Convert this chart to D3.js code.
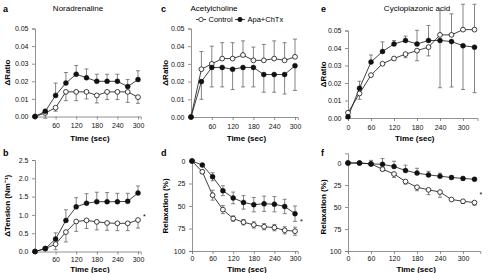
<!DOCTYPE html>
<html>
<head>
<meta charset="utf-8">
<script src="https://cdn.jsdelivr.net/npm/d3@7"></script>
<style>
body { margin: 0; background: #fff; }
svg { display: block; font-family: "Liberation Sans", Arial, sans-serif; }
</style>
</head>
<body>
<svg id="chart"></svg>
<script>
// time points (sec)
let times = [0, 30, 60, 90, 120, 150, 180, 210, 240, 270, 300];
let timesLong = [0, 30, 60, 90, 120, 150, 180, 210, 240, 270, 300, 330];

// tick values
let timeTicks = [60, 120, 180, 240, 300];
let timeTicksZero = [0, 60, 120, 180, 240, 300];
let ratioTicks = [0, 0.01, 0.02, 0.03, 0.04, 0.05];
let tensionTicks = [0, 0.5, 1.0, 1.5, 2.0, 2.5];
let relaxTicks = [0, 25, 50, 75, 100];

// errors: + drawn towards larger values, - towards smaller values

// a: noradrenaline, ratio
let naRatioCtrl = [0, 0.002, 0.005, 0.014, 0.014, 0.014, 0.012, 0.014, 0.014, 0.014, 0.011];
let naRatioCtrlErr = [0, -0.003, -0.002, -0.005, -0.005, -0.004, -0.0043, -0.0044, -0.0044, -0.006, -0.0035];
let naRatioApa = [0, 0.003, 0.012, 0.019, 0.024, 0.022, 0.020, 0.020, 0.020, 0.017, 0.021];
let naRatioApaErr = [0, 0.001, 0.007, 0.006, 0.005, 0.005, 0.004, 0.004, 0.004, 0.004, 0.005];

// b: noradrenaline, tension
let naTensionCtrl = [0, 0.08, 0.2, 0.53, 0.82, 0.85, 0.81, 0.78, 0.77, 0.77, 0.86];
let naTensionCtrlErr = [0, 0, -0.15, -0.27, -0.27, -0.22, -0.22, -0.2, -0.2, -0.2, -0.22];
let naTensionApa = [0, 0.08, 0.34, 0.85, 1.22, 1.32, 1.36, 1.36, 1.36, 1.37, 1.6];
let naTensionApaErr = [0, 0, 0.17, 0.29, 0.25, 0.26, 0.26, 0.25, 0.23, 0.22, 0.19];

// c: acetylcholine, ratio
let achRatioCtrl = [0, 0.027, 0.030, 0.033, 0.033, 0.035, 0.032, 0.032, 0.033, 0.032, 0.034];
let achRatioCtrlErr = [0, 0.010, 0.010, 0.009, 0.009, 0.008, 0.0075, 0.009, 0.010, 0.010, 0.010];
let achRatioApa = [0, 0.020, 0.028, 0.028, 0.027, 0.028, 0.028, 0.024, 0.024, 0.024, 0.029];
let achRatioApaErr = [0, -0.010, -0.011, -0.011, -0.0115, -0.011, -0.011, -0.010, -0.010, -0.011, -0.014];

// d: acetylcholine, relaxation (symmetric errors)
let achRelaxCtrl = [0, 12, 38, 54, 64, 68, 71, 73, 74, 77, 78];
let achRelaxCtrlErr = [0, 2, 5.5, 4.5, 3, 3, 3.5, 3.5, 3.5, 4, 4.5];
let achRelaxApa = [0, 4.5, 17.5, 33, 41, 46, 48.5, 47.5, 48, 50.5, 58.5];
let achRelaxApaErr = [0, 1, 4.5, 5.5, 6.5, 7.5, 8, 8.5, 8.5, 8, 8.5];

// e: cyclopiazonic acid, ratio
let cpaRatioCtrl = [0.003, 0.014, 0.0245, 0.031, 0.034, 0.0365, 0.0385, 0.0405, 0.0475, 0.0475, 0.0505, 0.0505];
let cpaRatioCtrlErr = [0, -0.0033, 0, 0, 0, -0.002, -0.0058, -0.005, 0.014, 0.012, 0.0145, 0.0145];
let cpaRatioApa = [0.0007, 0.017, 0.032, 0.038, 0.0423, 0.0443, 0.0423, 0.0443, 0.0443, 0.0437, 0.0413, 0.0405];
let cpaRatioApaErr = [0, 0.004, 0.004, 0.0055, 0.002, 0.0025, 0.0078, 0.0086, -0.027, -0.026, -0.025, -0.026];

// f: cyclopiazonic acid, relaxation
let cpaRelaxCtrl = [0, 0, 1, 7, 12.5, 21, 27.5, 30.5, 33, 41.5, 43.5, 45];
let cpaRelaxCtrlErr = [0, 0, 0, 2, 4, 3, 4, 5.5, 6, 1, 2.5, 3];
let cpaRelaxApa = [0, 0, 1, 1.5, 4, 8.5, 11.5, 13.5, 15, 16.5, 17.5, 18.5];
let cpaRelaxApaErr = [0, 0, -4, -6.5, -6, -6, -5.5, -4, -3.5, -2, -1.5, -1.5];

let w = 494;
let h = 273;

let svg = d3.select("#chart")
    .attr("width", w)
    .attr("height", h);

let panels = [
    { letter: "a", title: "Noradrenaline", titleX: 78, yLabel: "ΔRatio",
      t: times, ctrl: naRatioCtrl, ctrlErr: naRatioCtrlErr, apa: naRatioApa, apaErr: naRatioApaErr,
      yDomain: [0, 0.05], yTicks: ratioTicks, yFmt: d3.format(".2f"), xTicks: timeTicks, xEnd: 308,
      xr: [35, 138], yr: [116.5, 28.5], labelX: 7, letterX: 3 },
    { letter: "c", title: "Acetylcholine", titleX: 214, yLabel: "ΔRatio",
      t: times, ctrl: achRatioCtrl, ctrlErr: achRatioCtrlErr, apa: achRatioApa, apaErr: achRatioApaErr,
      yDomain: [0, 0.05], yTicks: ratioTicks, yFmt: d3.format(".2f"), xTicks: timeTicks, xEnd: 308,
      xr: [191, 295], yr: [117, 28.5], labelX: 165, letterX: 161, legend: true },
    { letter: "e", title: "Cyclopiazonic acid", titleX: 417, yLabel: "ΔRatio",
      t: timesLong, ctrl: cpaRatioCtrl, ctrlErr: cpaRatioCtrlErr, apa: cpaRatioApa, apaErr: cpaRatioApaErr,
      yDomain: [0, 0.05], yTicks: ratioTicks, yFmt: d3.format(".2f"), xTicks: timeTicksZero, xEnd: 338,
      xr: [348, 463], yr: [118, 30.5], labelX: 323, letterX: 321 },
    { letter: "b", yLabel: "ΔTension (Nm⁻¹)",
      t: times, ctrl: naTensionCtrl, ctrlErr: naTensionCtrlErr, apa: naTensionApa, apaErr: naTensionApaErr,
      yDomain: [0, 2.5], yTicks: tensionTicks, yFmt: d3.format(".1f"), xTicks: timeTicks, xEnd: 308,
      xr: [35, 138], yr: [251.5, 160], labelX: 7, letterX: 3, star: [300, 1.0] },
    { letter: "d", yLabel: "Relaxation (%)", symmetric: true,
      t: times, ctrl: achRelaxCtrl, ctrlErr: achRelaxCtrlErr, apa: achRelaxApa, apaErr: achRelaxApaErr,
      yDomain: [0, 100], yTicks: relaxTicks, yFmt: d3.format("d"), xTicks: timeTicksZero, xEnd: 308,
      xr: [192, 295], yr: [161, 251], labelX: 165, letterX: 161, star: [300, 65] },
    { letter: "f", yLabel: "Relaxation (%)", yStart: -11,
      t: timesLong, ctrl: cpaRelaxCtrl, ctrlErr: cpaRelaxCtrlErr, apa: cpaRelaxApa, apaErr: cpaRelaxApaErr,
      yDomain: [0, 100], yTicks: relaxTicks, yFmt: d3.format("d"), xTicks: timeTicksZero, xEnd: 345,
      xr: [348, 463], yr: [163, 251], labelX: 323, letterX: 321, star: [330, 34] }
];

function makePanel(p, i) {
    let top = i < 3;
    let g = svg.append("g");

    let xScale = d3.scaleLinear().domain([0, 300]).range(p.xr);
    let yScale = d3.scaleLinear().domain(p.yDomain).range(p.yr);

    // axes (domain extended a little past the last point like the original)
    let xAxisScale = xScale.copy().domain([0, p.xEnd]).range([xScale(0), xScale(p.xEnd)]);
    let y0 = p.yStart !== undefined ? p.yStart : p.yDomain[0];
    let yAxisScale = yScale.copy().domain([y0, p.yDomain[1]]).range([yScale(y0), yScale(p.yDomain[1])]);

    let xAxis = d3.axisBottom(xAxisScale)
        .tickValues(p.xTicks)
        .tickSizeOuter(0)
        .tickSize(3)
        .tickPadding(top ? 4 : 2.5);
    let xAxisGroup = g.append("g")
        .attr("transform", `translate(0, ${d3.max(p.yr)})`)
        .call(xAxis);

    let yAxis = d3.axisLeft(yAxisScale)
        .tickValues(p.yTicks)
        .tickFormat(p.yFmt)
        .tickSizeOuter(0)
        .tickSize(3)
        .tickPadding(3.5);
    let yAxisGroup = g.append("g")
        .attr("transform", `translate(${xScale(0)}, 0)`)
        .call(yAxis);

    [xAxisGroup, yAxisGroup].forEach(ax => {
        ax.select(".domain").attr("stroke", "#777").attr("stroke-width", 0.8);
        ax.selectAll(".tick line").attr("stroke", "#777").attr("stroke-width", 0.8);
        ax.selectAll(".tick text").attr("fill", "#111").style("font-size", "7px")
            .style("font-family", "'Liberation Sans', Arial, sans-serif");
    });

    // axis titles
    let xMid = (xScale(0) + xScale(p.xEnd)) / 2 + 2;
    g.append("text")
        .attr("x", xMid)
        .attr("y", top ? 141 : 271.5)
        .attr("text-anchor", "middle")
        .style("font-size", "8px")
        .style("font-weight", "bold")
        .text("Time (sec)");

    let yMid = (p.yr[0] + p.yr[1]) / 2;
    g.append("text")
        .attr("transform", `translate(${p.labelX + 3}, ${yMid}) rotate(-90)`)
        .attr("text-anchor", "middle")
        .style("font-size", "8px")
        .style("font-weight", "bold")
        .text(p.yLabel);

    // panel letter and title
    g.append("text")
        .attr("x", p.letterX)
        .attr("y", top ? 12 : 156)
        .style("font-size", "9px")
        .style("font-weight", "bold")
        .text(p.letter);
    if (p.title) {
        g.append("text")
            .attr("x", p.titleX)
            .attr("y", 11)
            .attr("text-anchor", "middle")
            .style("font-size", "8px")
            .text(p.title);
    }

    let series = [
        { vals: p.ctrl, errs: p.ctrlErr, open: true },
        { vals: p.apa, errs: p.apaErr, open: false }
    ];

    let line = d3.line()
        .x((d, j) => xScale(p.t[j]))
        .y(d => yScale(d));

    series.forEach(s => {
        g.append("path")
            .datum(s.vals)
            .attr("fill", "none")
            .attr("stroke", "#111")
            .attr("stroke-width", 0.8)
            .attr("d", line);
    });

    // error bars
    series.forEach(s => {
        let eb = g.append("g").attr("stroke", "#666").attr("stroke-width", 0.8);
        s.vals.forEach((v, j) => {
            let e = s.errs[j];
            if (!e) return;
            let cx = xScale(p.t[j]);
            let ends = p.symmetric ? [v - e, v + e] : [v + e];
            ends.forEach(end => {
                eb.append("line")
                    .attr("x1", cx).attr("x2", cx)
                    .attr("y1", yScale(v)).attr("y2", yScale(end));
                eb.append("line")
                    .attr("x1", cx - 2).attr("x2", cx + 2)
                    .attr("y1", yScale(end)).attr("y2", yScale(end));
            });
        });
    });

    // markers
    series.forEach(s => {
        g.append("g")
            .selectAll("circle")
            .data(s.vals)
            .join("circle")
            .attr("cx", (d, j) => xScale(p.t[j]))
            .attr("cy", d => yScale(d))
            .attr("r", s.open ? 2.4 : 2.5)
            .attr("fill", s.open ? "#fff" : "#111")
            .attr("stroke", "#111")
            .attr("stroke-width", s.open ? 0.8 : 0.4);
    });

    if (p.star) {
        g.append("text")
            .attr("x", xScale(p.star[0]) + 5)
            .attr("y", yScale(p.star[1]) + 4)
            .style("font-size", "7px")
            .text("*");
    }

    if (p.legend) {
        let items = [{ label: "Control", open: true, x: 196 }, { label: "Apa+ChTx", open: false, x: 235 }];
        let lg = g.append("g").attr("transform", "translate(0, 19.5)");
        items.forEach(it => {
            lg.append("line")
                .attr("x1", it.x).attr("x2", it.x + 10)
                .attr("stroke", "#111").attr("stroke-width", 0.8);
            lg.append("circle")
                .attr("cx", it.x + 5).attr("r", 2.2)
                .attr("fill", it.open ? "#fff" : "#111")
                .attr("stroke", "#111").attr("stroke-width", 0.7);
            lg.append("text")
                .attr("x", it.x + 12.5).attr("y", 2.6)
                .style("font-size", "7.5px")
                .text(it.label);
        });
    }
}

panels.forEach(makePanel);
</script>
</body>
</html>
